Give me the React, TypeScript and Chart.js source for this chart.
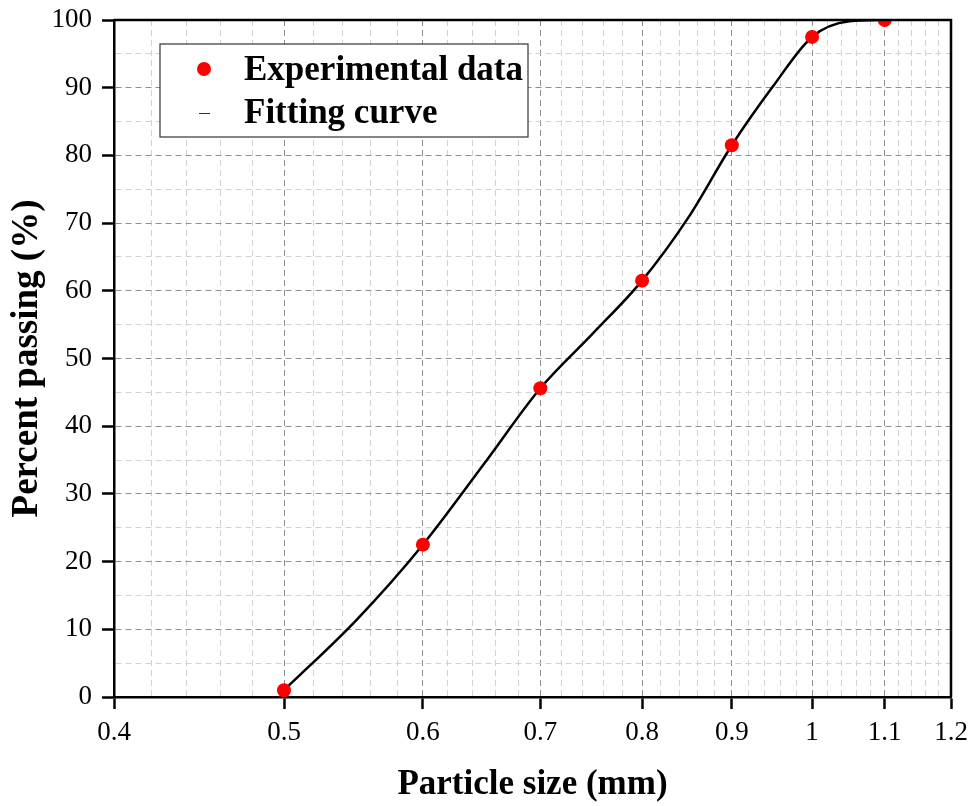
import React, { useEffect, useRef } from "react";
import { Chart, registerables } from "chart.js";

Chart.register(...registerables);

// Experimental data (particle size in mm, percent passing)
const expSizes = [0.5, 0.6, 0.7, 0.8, 0.9, 1.0, 1.1];
const expPassing = [1, 22.5, 45.6, 61.5, 81.5, 97.5, 100];

// Fitting curve
const fitSizes = [0.5, 0.55, 0.6, 0.65, 0.7, 0.75, 0.8, 0.85, 0.9, 0.95, 1.0, 1.05, 1.1];
const fitPassing = [1, 11.4, 22.5, 34.4, 45.6, 53.7, 61.5, 70.8, 81.5, 90.2, 97.5, 99.8, 100];

// Axis ticks
const xMajorTicks = [0.4, 0.5, 0.6, 0.7, 0.8, 0.9, 1.0, 1.1, 1.2];
const xAllTicks = [
  0.4, 0.42, 0.44, 0.46, 0.48, 0.5, 0.52, 0.54, 0.56, 0.58, 0.6, 0.62, 0.64, 0.66, 0.68,
  0.7, 0.72, 0.74, 0.76, 0.78, 0.8, 0.82, 0.84, 0.86, 0.88, 0.9, 0.92, 0.94, 0.96, 0.98,
  1.0, 1.02, 1.04, 1.06, 1.08, 1.1, 1.12, 1.14, 1.16, 1.18, 1.2,
];
const yMajorTicks = [0, 10, 20, 30, 40, 50, 60, 70, 80, 90, 100];

const SERIF = '"Liberation Serif", "Times New Roman", Times, serif';

const isMajorX = (v: number) => xMajorTicks.some((m) => Math.abs(m - v) < 1e-6);
const isMajorY = (v: number) => yMajorTicks.some((m) => Math.abs(m - v) < 1e-6);

const zeroPadding = (scale: any) => {
  scale.paddingTop = 0;
  scale.paddingBottom = 0;
  scale.paddingLeft = 0;
  scale.paddingRight = 0;
};

export default function App() {
  const ref = useRef<HTMLCanvasElement | null>(null);

  useEffect(() => {
    document.body.style.margin = "0";
    const canvas = ref.current;
    if (!canvas) return;

    const framePlugin = {
      id: "frame",
      afterDraw(chart: any) {
        const { ctx, chartArea } = chart;
        ctx.save();
        ctx.strokeStyle = "#000";
        ctx.lineWidth = 2.5;
        ctx.beginPath();
        ctx.moveTo(chartArea.left, chartArea.top);
        ctx.lineTo(chartArea.right, chartArea.top);
        ctx.lineTo(chartArea.right, chartArea.bottom);
        ctx.stroke();

        // legend
        const bx = 160, by = 44, bw = 368, bh = 93;
        ctx.fillStyle = "#fff";
        ctx.fillRect(bx, by, bw, bh);
        ctx.strokeStyle = "#333";
        ctx.lineWidth = 1.2;
        ctx.strokeRect(bx, by, bw, bh);
        const ds = chart.data.datasets;
        ctx.font = `bold 35px ${SERIF}`;
        ctx.textBaseline = "middle";
        ctx.textAlign = "left";
        // item 1
        ctx.beginPath();
        ctx.fillStyle = "#ff0000";
        ctx.arc(204, 69, 7, 0, Math.PI * 2);
        ctx.fill();
        ctx.fillStyle = "#000";
        ctx.fillText(ds[0].label, 244, 71);
        // item 2
        ctx.strokeStyle = "#333";
        ctx.lineWidth = 1;
        ctx.beginPath();
        ctx.moveTo(199, 113.5);
        ctx.lineTo(210, 113.5);
        ctx.stroke();
        ctx.fillText(ds[1].label, 244, 114);
        ctx.restore();
      },
    };

    const chart = new Chart(canvas, {
      type: "scatter",
      data: {
        datasets: [
          {
            label: "Experimental data",
            data: expSizes.map((x, i) => ({ x, y: expPassing[i] })),
            backgroundColor: "#ff0000",
            borderColor: "#ff0000",
            pointRadius: 7,
            pointBorderWidth: 0,
            showLine: false,
            clip: 0,
            order: 0,
          } as any,
          {
            label: "Fitting curve",
            type: "line",
            data: fitSizes.map((x, i) => ({ x, y: fitPassing[i] })),
            borderColor: "#000",
            borderWidth: 2.5,
            pointRadius: 0,
            cubicInterpolationMode: "monotone",
            fill: false,
            clip: 0,
            order: 1,
          } as any,
        ],
      },
      options: {
        responsive: false,
        animation: false,
        layout: { autoPadding: false, padding: { top: 20, right: 19, left: 0, bottom: 0 } },
        plugins: {
          legend: { display: false },
          tooltip: { enabled: false },
        },
        scales: {
          x: {
            type: "logarithmic",
            min: 0.4,
            max: 1.2,
            afterBuildTicks: (scale: any) => {
              scale.ticks = xAllTicks.map((v) => ({ value: v }));
            },
            afterFit: (scale: any) => {
              scale.height = 109;
              zeroPadding(scale);
            },
            ticks: {
              autoSkip: false,
              maxRotation: 0,
              minRotation: 0,
              padding: 8,
              color: "#000",
              font: { family: SERIF, size: 27 },
              callback: (value: any) => {
                const v = Number(value);
                if (!isMajorX(v)) return "";
                return String(Math.round(v * 10) / 10);
              },
            },
            grid: {
              color: (ctx: any) => (ctx.tick && isMajorX(ctx.tick.value) ? "#8f8f8f" : "#d2d2d2"),
              lineWidth: 1,
              tickLength: 12,
              tickWidth: 2.5,
              tickColor: (ctx: any) => (ctx.tick && isMajorX(ctx.tick.value) ? "#000" : "rgba(0,0,0,0)"),
            },
            border: { display: true, color: "#000", width: 2.5, dash: [6, 4] },
            title: {
              display: true,
              text: "Particle size (mm)",
              color: "#000",
              font: { family: SERIF, size: 35, weight: "bold" },
              padding: { top: 0, bottom: 0 },
            },
          } as any,
          y: {
            type: "linear",
            min: 0,
            max: 100,
            afterFit: (scale: any) => {
              scale.width = 114;
              zeroPadding(scale);
            },
            ticks: {
              stepSize: 5,
              autoSkip: false,
              padding: 10,
              color: "#000",
              font: { family: SERIF, size: 27 },
              callback: (value: any) => {
                const v = Number(value);
                return isMajorY(v) ? String(v) : "";
              },
            },
            grid: {
              color: (ctx: any) => (ctx.tick && isMajorY(ctx.tick.value) ? "#8f8f8f" : "#d2d2d2"),
              lineWidth: 1,
              tickLength: 12,
              tickWidth: 2.5,
              tickColor: (ctx: any) => (ctx.tick && isMajorY(ctx.tick.value) ? "#000" : "rgba(0,0,0,0)"),
            },
            border: { display: true, color: "#000", width: 2.5, dash: [6, 4] },
            title: {
              display: true,
              text: "Percent passing (%)",
              color: "#000",
              font: { family: SERIF, size: 37, weight: "bold" },
              padding: { top: 5, bottom: 0 },
            },
          } as any,
        },
      },
      plugins: [framePlugin],
    });

    return () => chart.destroy();
  }, []);

  return (
    <div style={{ width: 970, height: 806, background: "#fff" }}>
      <canvas ref={ref} width={970} height={806} style={{ display: "block" }} />
    </div>
  );
}
